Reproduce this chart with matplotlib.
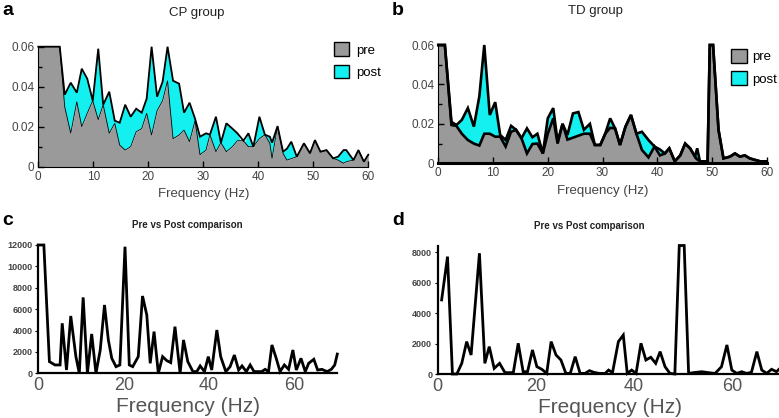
import matplotlib
matplotlib.use('Agg')
import matplotlib.pyplot as plt
from matplotlib.patches import Patch
import numpy as np

plt.rcParams['font.family'] = ['Liberation Sans', 'DejaVu Sans']

# ---- panel a: CP group ----
freq_a = [0, 1, 2, 3, 3.9, 4.8, 5.9, 7.0, 7.9, 8.9, 9.9, 10.9, 11.8, 12.9, 13.9, 14.8,
          15.8, 16.8, 17.8, 18.8, 19.7, 20.6, 21.6, 22.6, 23.5, 24.5, 25.6, 26.5, 27.5,
          28.5, 29.4, 30.5, 31.2, 32.3, 33.2, 34.2, 35.3, 36.2, 37.3, 38.2, 39.1, 40.2,
          41.2, 42.1, 42.5, 43.5, 44.5, 45.2, 46.0, 47.0, 48.3, 49.4, 50.3, 51.3, 52.4,
          53.6, 54.5, 55.5, 56.0, 57.3, 58.2, 59.2, 60.0]
pre_a = [0.06, 0.06, 0.06, 0.06, 0.06, 0.030, 0.0167, 0.0325, 0.020, 0.0267, 0.033, 0.0235,
         0.031, 0.0167, 0.0217, 0.0108, 0.0083, 0.010, 0.0175, 0.019, 0.0267, 0.0158, 0.028,
         0.033, 0.043, 0.014, 0.0158, 0.0183, 0.0125, 0.023, 0.006, 0.0083, 0.016, 0.0075,
         0.012, 0.0075, 0.010, 0.013, 0.013, 0.010, 0.010, 0.014, 0.016, 0.0117, 0.0042,
         0.0203, 0.0067, 0.0033, 0.004, 0.005, 0.0117, 0.0067, 0.0133, 0.0075, 0.0083,
         0.0042, 0.0033, 0.0017, 0.0025, 0.0033, 0.0083, 0.0025, 0.006]
post_a = [0.06, 0.06, 0.06, 0.06, 0.06, 0.036, 0.042, 0.037, 0.049, 0.044, 0.033, 0.059,
          0.031, 0.0375, 0.023, 0.022, 0.031, 0.025, 0.029, 0.027, 0.034, 0.060, 0.035,
          0.0425, 0.060, 0.043, 0.0415, 0.027, 0.032, 0.024, 0.015, 0.0167, 0.016, 0.025,
          0.012, 0.0217, 0.019, 0.0167, 0.010, 0.0167, 0.010, 0.025, 0.016, 0.015, 0.012,
          0.0203, 0.0075, 0.009, 0.0125, 0.005, 0.0117, 0.0067, 0.0133, 0.0075, 0.0083,
          0.0042, 0.005, 0.0083, 0.0083, 0.0033, 0.0083, 0.0025, 0.006]

# ---- panel b: TD group ----
freq_b = [0, 1.2, 2.4, 3.3, 4.3, 5.4, 6.5, 7.5, 8.4, 9.4, 10.4, 11.3, 12.3, 13.3, 14.2,
          15.2, 16.2, 17.2, 18.1, 19.1, 20.0, 21.0, 21.8, 22.7, 23.6, 24.6, 25.6, 26.6,
          27.7, 28.6, 29.6, 30.5, 31.4, 32.3, 33.2, 34.2, 35.2, 36.2, 37.2, 38.4, 39.5,
          40.5, 41.4, 42.2, 43.2, 44.2, 45.1, 46.0, 46.9, 47.3, 47.8, 48.7, 49.2, 49.6,
          50.2, 51.2, 52.1, 53.3, 54.2, 55.1, 56.0, 56.9, 57.9, 58.8, 60.0]
pre_b = [0.06, 0.06, 0.0194, 0.019, 0.015, 0.0118, 0.010, 0.009, 0.015, 0.015, 0.0135,
         0.0135, 0.0085, 0.016, 0.017, 0.0127, 0.005, 0.0098, 0.010, 0.005, 0.015, 0.0228,
         0.010, 0.020, 0.012, 0.013, 0.014, 0.015, 0.015, 0.0093, 0.0093, 0.015, 0.018,
         0.0177, 0.0093, 0.0186, 0.0245, 0.015, 0.0068, 0.003, 0.0085, 0.004, 0.005,
         0.0076, 0.001, 0.004, 0.010, 0.0076, 0.0034, 0.002, 0.001, 0.001, 0.001, 0.06,
         0.06, 0.0169, 0.0025, 0.0034, 0.005, 0.0034, 0.004, 0.0025, 0.0017, 0.001, 0.001]
post_b = [0.06, 0.06, 0.021, 0.0194, 0.022, 0.028, 0.0186, 0.034, 0.06, 0.0245, 0.031,
          0.0144, 0.0118, 0.019, 0.016, 0.0127, 0.0177, 0.0132, 0.015, 0.005, 0.0228, 0.028,
          0.011, 0.020, 0.0144, 0.0253, 0.026, 0.017, 0.020, 0.0093, 0.0093, 0.015, 0.0228,
          0.0177, 0.0093, 0.0186, 0.0245, 0.015, 0.016, 0.0118, 0.0085, 0.007, 0.005,
          0.0076, 0.001, 0.004, 0.010, 0.0076, 0.0034, 0.0076, 0.001, 0.001, 0.001, 0.06,
          0.06, 0.0169, 0.0025, 0.0034, 0.005, 0.0034, 0.004, 0.0025, 0.0017, 0.001, 0.001]

# ---- panel c: CP pre vs post ----
freq_c = [0, 1.3, 2.6, 3.9, 5.1, 5.6, 6.6, 7.6, 8.8, 9.6, 10.5, 11.5, 12.5, 13.5, 14.5,
          15.5, 16.4, 17.2, 18.2, 19.1, 20.3, 21.3, 22.1, 23.4, 24.4, 25.4, 26.2, 27.1,
          28.1, 29.1, 30.1, 31.0, 32.0, 33.2, 34.0, 35.0, 36.2, 37.1, 37.9, 38.9, 39.8,
          40.6, 41.8, 42.7, 43.9, 44.9, 45.9, 46.9, 47.7, 48.7, 49.6, 50.5, 52.3, 53.1,
          53.9, 54.7, 55.7, 56.6, 57.6, 58.6, 59.6, 60.4, 61.5, 62.5, 63.3, 64.5, 65.4,
          66.4, 67.6, 68.6, 69.4, 70.0]
diff_c = [40000, 14000, 1090, 780, 780, 4680, 310, 5360, 1560, 0, 7100, 0, 3680, 0, 2180,
          6390, 3120, 1400, 620, 780, 11840, 780, 620, 1560, 7230, 5450, 935, 3900, 0, 1560,
          1180, 1000, 4360, 0, 3120, 1090, 160, 160, 690, 160, 1560, 310, 4050, 1560, 160,
          620, 1710, 310, 690, 160, 780, 160, 160, 370, 160, 2650, 1400, 160, 780, 370,
          2180, 310, 1400, 160, 935, 1310, 310, 370, 160, 370, 780, 1800]

# ---- panel d: TD pre vs post ----
freq_d = [0.8, 2.0, 3.0, 3.9, 4.9, 5.9, 6.8, 8.5, 9.6, 10.5, 11.5, 12.6, 13.7, 15.4, 16.4,
          17.4, 18.3, 19.3, 20.2, 21.2, 22.2, 23.1, 24.1, 25.1, 26.1, 27.0, 28.0, 29.0,
          30.0, 30.9, 31.8, 32.9, 34.1, 34.8, 35.6, 36.8, 37.8, 38.6, 39.5, 40.4, 41.4,
          42.4, 43.4, 44.4, 45.3, 46.3, 47.3, 48.3, 49.2, 50.2, 51.1, 52.1, 53.8, 55.1,
          56.5, 57.8, 58.9, 59.9, 60.9, 61.9, 62.9, 63.9, 65.0, 66.0, 67.0, 68.0, 69.0, 69.7]
diff_d = [4870, 7720, 0, 0, 700, 2130, 1250, 7940, 700, 1800, 370, 700, 90, 90, 2020, 150,
          150, 1580, 480, 310, 40, 2130, 1250, 920, 40, 40, 1140, 40, 40, 220, 110, 40, 40,
          260, 90, 2130, 2560, 40, 260, 40, 2020, 920, 1100, 700, 1470, 480, 40, 0, 90000,
          90000, 40, 90, 150, 90, 40, 480, 1910, 260, 40, 150, 40, 110, 1470, 260, 40, 310,
          150, 370]

W, H = 779, 418
GREY = '#9a9a9a'
CYAN = '#14f0f0'
TXT = '#444444'

fig = plt.figure(figsize=(W / 100, H / 100), dpi=100)


def px_axes(l, t, r, b):
    return fig.add_axes([l / W, 1 - b / H, (r - l) / W, (b - t) / H])


def spectrum_panel(ax, freq, pre, post, outer_lw, inner_lw, title):
    freq = np.array(freq)
    pre = np.array(pre)
    post = np.array(post)
    ax.fill_between(freq, 0, pre, color=GREY, lw=0)
    ax.fill_between(freq, pre, post, where=post > pre, interpolate=True, color=CYAN, lw=0)
    ax.plot(freq, pre, color='k', lw=inner_lw, solid_joinstyle='miter', clip_on=False)
    ax.plot(freq, np.maximum(pre, post), color='k', lw=outer_lw, solid_joinstyle='miter',
            clip_on=False)
    ax.set_xlim(0, 60)
    ax.set_ylim(0, 0.06)
    ax.set_xticks([0, 10, 20, 30, 40, 50, 60])
    ax.set_yticks([0, 0.02, 0.04, 0.06])
    ax.set_yticklabels(['0', '0.02', '0.04', '0.06'])
    ax.set_yticks([0.01, 0.03, 0.05], minor=True)
    ax.tick_params(direction='in', length=4, width=1, labelsize=8.5, colors='k',
                   labelcolor=TXT, pad=3)
    ax.tick_params(which='minor', direction='in', length=3, width=1)
    for s in ['top', 'right']:
        ax.spines[s].set_visible(False)
    ax.set_xlabel('Frequency (Hz)', fontsize=9.5, color=TXT, labelpad=4)
    ax.set_title(title, fontsize=9.5, color='#222222', pad=22, x=0.48)
    handles = [Patch(facecolor=GREY, edgecolor='k', lw=1),
               Patch(facecolor=CYAN, edgecolor='k', lw=1)]
    return handles


# panel a
ax_a = px_axes(38.3, 46.7, 368.3, 166.7)
h = spectrum_panel(ax_a, freq_a, pre_a, post_a, 1.3, 0.6, 'CP group')
ax_a.legend(h, ['pre', 'post'], loc='upper left', bbox_to_anchor=(0.875, 1.09),
            frameon=False, fontsize=9.5, handlelength=1.2, handleheight=1.2,
            borderpad=0, labelspacing=0.6, handletextpad=0.5)

# panel b
ax_b = px_axes(438.3, 45, 766.7, 163.3)
h = spectrum_panel(ax_b, freq_b, pre_b, post_b, 1.9, 1.9, 'TD group')
ax_b.spines['bottom'].set_linewidth(2.2)
ax_b.legend(h, ['pre', 'post'], loc='upper left', bbox_to_anchor=(0.872, 1.02),
            frameon=False, fontsize=9.5, handlelength=1.2, handleheight=1.2,
            borderpad=0, labelspacing=0.6, handletextpad=0.4)


def diff_panel(ax, freq, vals, ymax, yticks):
    # values above the axis top are drawn flat along it, as in the original figure
    shown = np.minimum(np.array(vals, dtype=float), ymax)
    ax.plot(freq, shown, color='k', lw=2.0, solid_joinstyle='miter', clip_on=False)
    ax.set_xlim(0, 70)
    ax.set_ylim(0, ymax)
    ax.set_yticks(yticks)
    ax.set_xticks([0, 20, 40, 60])
    ax.tick_params(axis='y', labelsize=6.5, labelcolor=TXT, length=2, pad=2)
    ax.tick_params(axis='x', labelsize=13, labelcolor='#555555', length=0, pad=3)
    for lab in ax.get_yticklabels():
        lab.set_fontweight('bold')
    for s in ['top', 'right']:
        ax.spines[s].set_visible(False)
    ax.spines['bottom'].set_linewidth(1.6)
    ax.spines['left'].set_linewidth(1.6)
    ax.set_xlabel('Frequency (Hz)', fontsize=15, color='#555555', labelpad=2)
    ax.set_title('Pre vs Post comparison', fontsize=7, fontweight='bold',
                 color='#222222', pad=12)


ax_c = px_axes(38.3, 245, 337.3, 373.3)
diff_panel(ax_c, freq_c, diff_c, 12000, [0, 2000, 4000, 6000, 8000, 10000, 12000])

ax_d = px_axes(437.7, 245.5, 781.4, 374)
diff_panel(ax_d, freq_d, diff_d, 8450, [0, 2000, 4000, 6000, 8000])
ax_d.title.set_position((0.44, 1.0))

for lbl, x, y in [('a', 2, 2), ('b', 392, 2), ('c', 2, 212), ('d', 392, 212)]:
    fig.text(x / W, 1 - y / H, lbl, fontsize=14, fontweight='bold', va='top', ha='left')

fig.savefig('out.png', dpi=100)
